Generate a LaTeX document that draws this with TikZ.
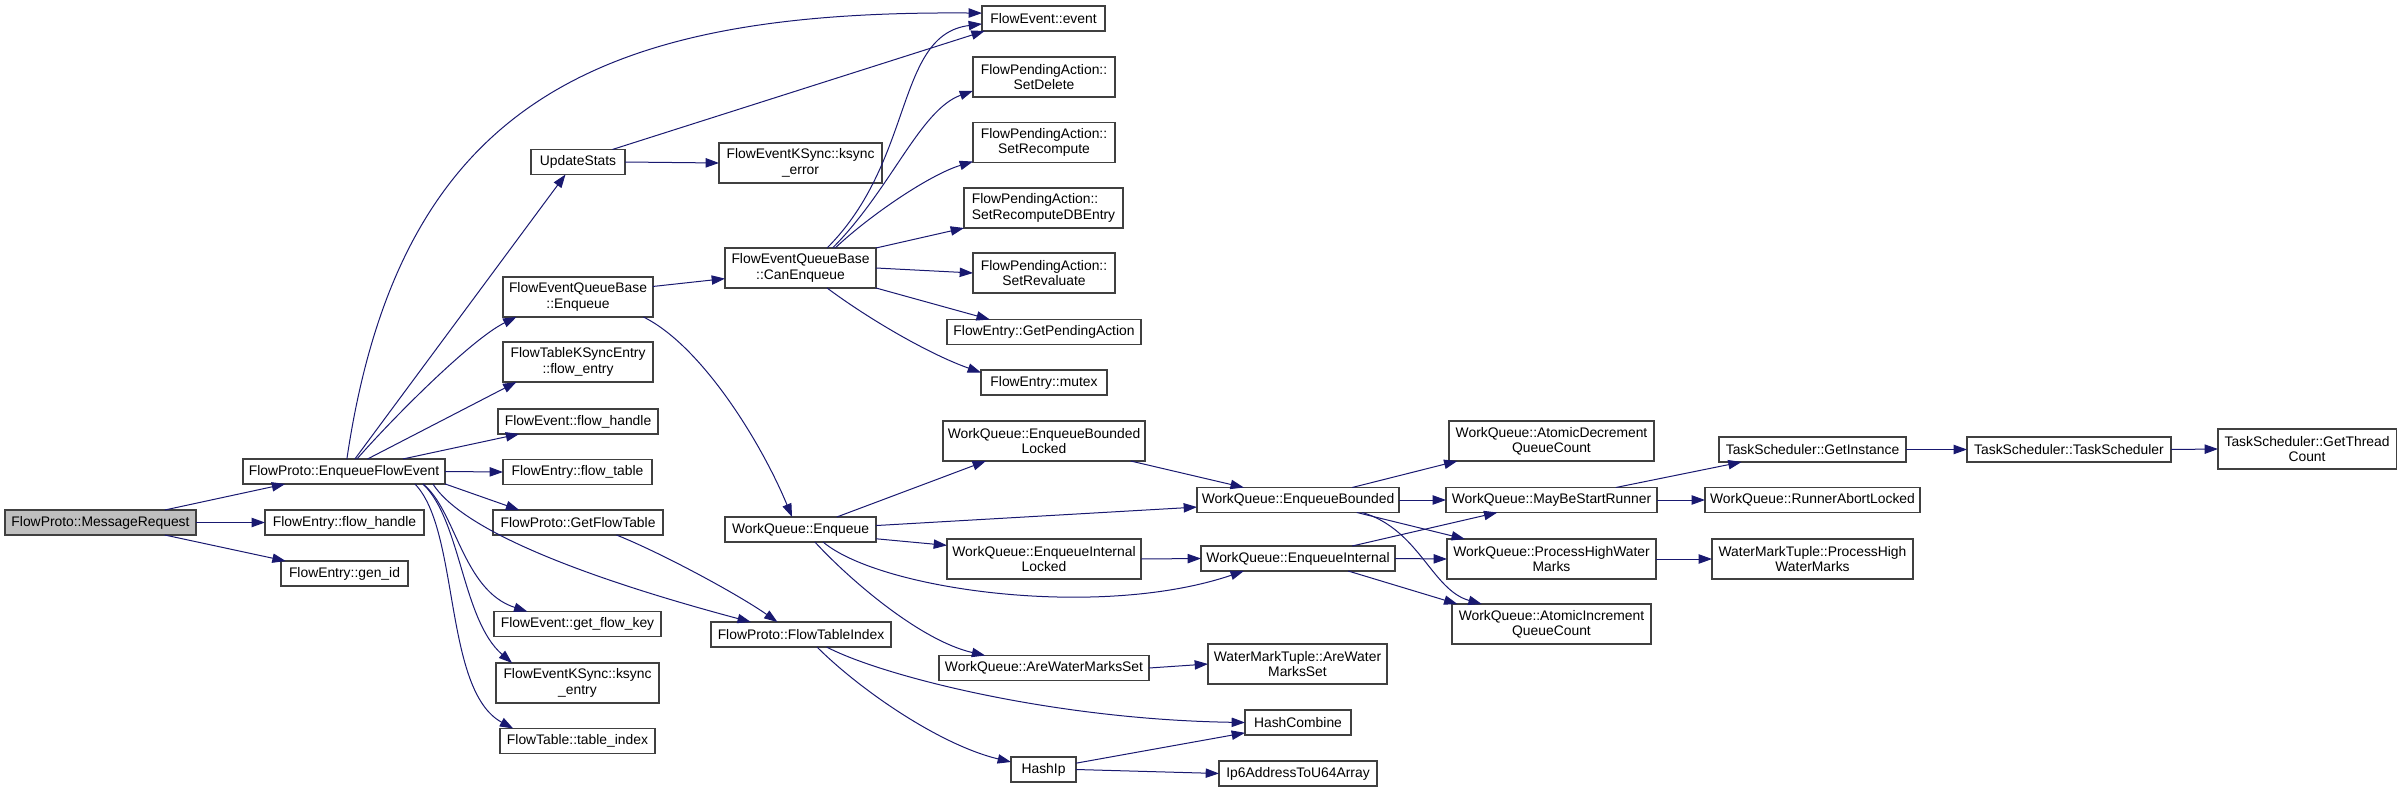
\documentclass[tikz,border=0pt]{standalone}
\usepackage{fontspec}
\setmainfont{Liberation Sans}
\usetikzlibrary{arrows.meta}
\definecolor{edgeblue}{HTML}{191970}
\definecolor{boxline}{HTML}{404040}
\definecolor{rootgray}{HTML}{BFBFBF}
\tikzset{
  fn/.style={draw=boxline, fill=white, line width=0.8pt, inner sep=0pt, outer sep=0pt,
    minimum height=18.75pt, minimum width=#1*0.75pt, align=center,
    font=\fontsize{10.4}{11.5}\selectfont},
  tall/.style={minimum height=30pt},
  call/.style={draw=edgeblue, line width=0.75pt, -{Triangle[length=10pt,width=7pt]}}
}
\begin{document}
\begin{tikzpicture}[x=0.75pt, y=-0.75pt]
    \useasboundingbox (0,0) rectangle (2401,792);
    \node [fn=191, fill=rootgray] (mr) at (100.5,522.5) {FlowProto::MessageRequest};
    \node [fn=202] (efe) at (344,471.5) {FlowProto::EnqueueFlowEvent};
    \node [fn=159] (fehandle) at (344.5,522.5) {FlowEntry::flow\_handle};
    \node [fn=127] (genid) at (344.5,573.5) {FlowEntry::gen\_id};
    \node [fn=94] (upd) at (578,162) {UpdateStats};
    \node [fn=150, tall] (feqb) at (578,297) {FlowEventQueueBase\\::Enqueue};
    \node [fn=150, tall] (ftkse) at (578,362) {FlowTableKSyncEntry\\::flow\_entry};
    \node [fn=160] (evhandle) at (578,421.5) {FlowEvent::flow\_handle};
    \node [fn=149] (ftable) at (577.5,472) {FlowEntry::flow\_table};
    \node [fn=170] (gft) at (578,522.5) {FlowProto::GetFlowTable};
    \node [fn=167] (gfk) at (577.5,624) {FlowEvent::get\_flow\_key};
    \node [fn=163, tall] (kentry) at (577.5,683) {FlowEventKSync::ksync\\\_entry};
    \node [fn=155] (tidx) at (577.5,741) {FlowTable::table\_index};
    \node [fn=163, tall] (kerr) at (800.5,163) {FlowEventKSync::ksync\\\_error};
    \node [fn=151, tall] (canenq) at (800.5,268) {FlowEventQueueBase\\::CanEnqueue};
    \node [fn=151] (wqenq) at (800.5,529.5) {WorkQueue::Enqueue};
    \node [fn=180] (fti) at (801,634.5) {FlowProto::FlowTableIndex};
    \node [fn=123] (event) at (1043.5,18.5) {FlowEvent::event};
    \node [fn=142, tall] (setdel) at (1044,77) {FlowPendingAction::\\SetDelete};
    \node [fn=142, tall] (setrec) at (1044,142.5) {FlowPendingAction::\\SetRecompute};
    \node [fn=159, tall, align=left] (setdb) at (1043.5,208) {FlowPendingAction::\\SetRecomputeDBEntry};
    \node [fn=142, tall] (setrev) at (1044,273) {FlowPendingAction::\\SetRevaluate};
    \node [fn=194] (getpa) at (1044,332) {FlowEntry::GetPendingAction};
    \node [fn=126] (mutex) at (1044,382.5) {FlowEntry::mutex};
    \node [fn=202, tall] (ebl) at (1044,441) {WorkQueue::EnqueueBounded\\Locked};
    \node [fn=194, tall] (eil) at (1044,559) {WorkQueue::EnqueueInternal\\Locked};
    \node [fn=210] (awms) at (1044,668) {WorkQueue::AreWaterMarksSet};
    \node [fn=65] (hip) at (1043.5,769.5) {HashIp};
    \node [fn=202] (eb) at (1298,500) {WorkQueue::EnqueueBounded};
    \node [fn=194] (ei) at (1298,558.5) {WorkQueue::EnqueueInternal};
    \node [fn=179, tall] (wmtawms) at (1297.5,664) {WaterMarkTuple::AreWater\\MarksSet};
    \node [fn=106] (hc) at (1298,722.5) {HashCombine};
    \node [fn=158] (ip6) at (1298,773.5) {Ip6AddressToU64Array};
    \node [fn=205, tall] (adec) at (1551.5,441) {WorkQueue::AtomicDecrement\\QueueCount};
    \node [fn=211] (mbsr) at (1551.5,500) {WorkQueue::MayBeStartRunner};
    \node [fn=209, tall] (phwm) at (1551.5,559) {WorkQueue::ProcessHighWater\\Marks};
    \node [fn=199, tall] (ainc) at (1551.5,624) {WorkQueue::AtomicIncrement\\QueueCount};
    \node [fn=187] (gi) at (1812.5,449.5) {TaskScheduler::GetInstance};
    \node [fn=215] (ral) at (1812.5,500) {WorkQueue::RunnerAbortLocked};
    \node [fn=201, tall] (wmtphwm) at (1812.5,559) {WaterMarkTuple::ProcessHigh\\WaterMarks};
    \node [fn=204] (ts) at (2069,449.5) {TaskScheduler::TaskScheduler};
    \node [fn=178, tall] (gtc) at (2307,449) {TaskScheduler::GetThread\\Count};

    \draw [call] (mr.11) -- (efe.192);
    \draw [call] (mr.east) -- (fehandle.west);
    \draw [call] (mr.349) -- (genid.168);

    \draw [call] (efe.77) .. controls +(53,-359) and +(-382,-3) .. (event.175);
    \draw [call] (efe.49) -- (upd.225);
    \draw [call] (efe.44) .. controls +(35,-40) and +(-45,22) .. (feqb.198);
    \draw [call] (efe.28) -- (ftkse.198);
    \draw [call] (efe.12) -- (evhandle.192);
    \draw [call] (efe.east) -- (ftable.west);
    \draw [call] (efe.353) -- (gft.168);
    \draw [call] (efe.352) .. controls +(32,50) and +(-150,-40) .. (fti.166);
    \draw [call] (efe.351.5) .. controls +(33,26) and +(-65,-21) .. (gfk.166);
    \draw [call] (efe.351) .. controls +(38,36) and +(-50,-43) .. (kentry.163);
    \draw [call] (efe.350.5) .. controls +(45,46) and +(-70,-38) .. (tidx.169);

    \draw [call] (upd.20) -- (event.192);
    \draw [call] (upd.east) -- (kerr.west);
    \draw [call] (feqb.8) -- (canenq.188);
    \draw [call] (feqb.343) .. controls +(57,28) and +(-32,-77) .. (wqenq.124);

    \draw [call] (canenq.37) .. controls +(88,-88) and +(-87,11) .. (event.185);
    \draw [call] (canenq.32) .. controls +(58,-58) and +(-53,19) .. (setdel.191);
    \draw [call] (canenq.30) .. controls +(35,-33) and +(-43,13) .. (setrec.195);
    \draw [call] (canenq.north east) -- (setdb.south west);
    \draw [call] (canenq.east) -- (setrev.west);
    \draw [call] (canenq.south east) -- (getpa.167);
    \draw [call] (canenq.323) .. controls +(43,32) and +(-51,-18) .. (mutex.171);

    \draw [call] (wqenq.19) -- (ebl.199);
    \draw [call] (wqenq.3) -- (eb.184);
    \draw [call] (wqenq.353) -- (eil.172);
    \draw [call] (wqenq.331) .. controls +(57,48) and +(-145,49) .. (ei.193);
    \draw [call] (wqenq.319) .. controls +(35,38) and +(-65,-15) .. (awms.168);
    \draw [call] (gft.342) .. controls +(45,18) and +(-40,-28) .. (fti.152);
    \draw [call] (fti.334) .. controls +(53,28) and +(-195,-3) .. (hc.west);
    \draw [call] (fti.322) .. controls +(43,43) and +(-71,-17) .. (hip.167);

    \draw [call] (ebl.347) -- (eb.167);
    \draw [call] (eil.east) -- (ei.west);
    \draw [call] (awms.east) -- (wmtawms.west);
    \draw [call] (hip.11) -- (hc.191);
    \draw [call] (hip.east) -- (ip6.west);

    \draw [call] (eb.13) -- (adec.192);
    \draw [call] (eb.east) -- (mbsr.west);
    \draw [call] (eb.348) -- (phwm.167);
    \draw [call] (eb.349) .. controls +(57,17) and +(-50,-14) .. (ainc.164);
    \draw [call] (ei.13) -- (mbsr.193);
    \draw [call] (ei.east) -- (phwm.west);
    \draw [call] (ei.346) -- (ainc.168);

    \draw [call] (mbsr.11) -- (gi.190);
    \draw [call] (mbsr.east) -- (ral.west);
    \draw [call] (phwm.east) -- (wmtphwm.west);
    \draw [call] (gi.east) -- (ts.west);
    \draw [call] (ts.east) -- (gtc.west);
\end{tikzpicture}
\end{document}
